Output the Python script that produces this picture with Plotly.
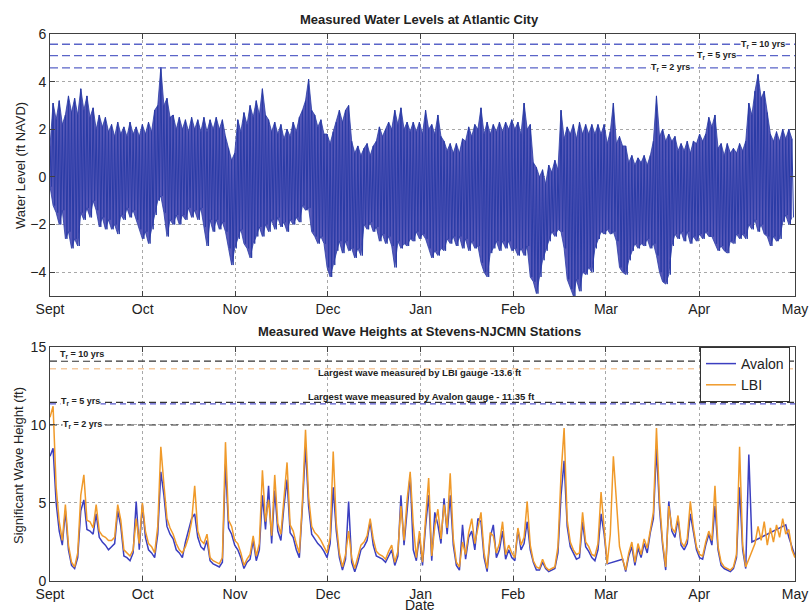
import plotly.graph_objects as go

# ---------------- data ----------------
MONTH_LABELS = ["Sept", "Oct", "Nov", "Dec", "Jan", "Feb", "Mar", "Apr", "May"]
MONTH_TICK_DAYS = [0, 30.1, 60.1, 90.3, 120.4, 150.4, 180.6, 210.9, 242]

# daily high / low water level (ft NAVD), Atlantic City
TIDE_HIGH = [
    1.3, 3.1, 2.4, 3.2, 2.2, 2.6, 3.4, 2.7, 3.3, 2.6,
    3.7, 2.8, 3.4, 2.5, 2.9, 2.0, 2.6, 2.1, 2.5, 1.9,
    2.2, 1.7, 2.3, 1.8, 2.1, 1.7, 2.3, 1.8, 2.1, 1.7,
    2.2, 1.8, 2.3, 1.9, 2.8, 3.0, 4.6, 3.0, 3.3, 2.5,
    2.6, 2.0, 2.5, 2.0, 2.4, 1.9, 2.5, 2.0, 2.4, 1.9,
    2.5, 1.9, 2.4, 2.0, 2.5, 2.0, 2.4, 1.7, 1.2, 0.7,
    1.0, 2.4, 1.9, 2.7, 2.2, 3.0, 2.5, 3.2, 2.6, 3.7,
    2.6, 2.4, 1.9, 2.3, 1.8, 2.2, 1.6, 2.0, 1.7, 2.3,
    1.9, 2.5, 2.8, 3.2, 4.1, 2.8, 2.6, 2.1, 2.4, 1.8,
    1.8, 1.4, 1.9, 2.3, 2.8, 2.3, 2.8, 3.0, 1.5, 1.0,
    1.3, 0.9, 1.2, 1.4, 0.9, 1.3, 1.5, 2.1, 1.7, 2.0,
    2.3, 2.0, 2.8, 2.2, 2.9, 2.0, 2.3, 1.9, 2.3, 1.9,
    2.3, 1.8, 2.8, 2.0, 2.2, 1.8, 2.6, 1.7, 1.5, 1.1,
    1.4, 1.0, 1.4, 1.0, 1.6, 1.5, 2.1, 1.7, 2.2, 2.0,
    2.9, 1.8, 2.3, 1.8, 2.2, 1.9, 2.3, 1.9, 2.3, 2.0,
    2.4, 2.0, 2.3, 1.8, 3.1, 2.0, 2.2, 0.6, 0.4, 0.0,
    0.3, -0.3, 0.5, 0.2, 0.7, 0.3, 2.8, 1.6, 2.1, 1.8,
    2.2, 1.6, 2.3, 1.8, 2.2, 1.8, 2.2, 1.8, 2.2, 1.8,
    2.2, 1.4, 1.9, 3.1, 1.4, 1.7, 1.3, 1.3, 0.6, 0.9,
    0.5, 0.8, 0.6, 0.9, 0.5, 0.9, 1.5, 3.4, 1.7, 2.0,
    1.5, 1.8, 1.5, 1.7, 1.1, 1.4, 1.1, 1.5, 1.0, 1.5,
    1.4, 1.8, 1.5, 1.8, 2.5, 2.1, 2.6, 1.2, 1.4, 0.9,
    1.4, 1.0, 1.2, 1.0, 1.4, 1.1, 1.5, 3.1, 2.6, 3.6,
    4.3, 3.3, 3.6, 2.7, 1.8, 1.5, 1.9, 1.5, 2.0, 1.6,
    2.0, 1.6,
]
TIDE_LOW = [
    -0.4, -1.2, -1.5, -2.0, -1.4, -2.6, -2.3, -3.0, -2.6, -2.9,
    -1.5, -1.8, -1.3, -1.7, -1.0, -1.4, -2.1, -1.7, -2.2, -1.8,
    -2.2, -2.0, -2.4, -1.6, -1.8, -1.3, -1.7, -1.4, -1.8, -2.2,
    -2.6, -2.3, -2.8, -2.2, -1.6, -1.0, -0.8, -1.5, -2.5, -1.8,
    -2.0, -1.6, -2.0, -1.6, -1.8, -1.3, -1.7, -1.4, -1.8, -1.3,
    -2.1, -2.9, -1.8, -2.3, -1.8, -2.2, -1.9, -2.3, -3.0, -3.7,
    -3.0, -2.6, -2.2, -2.8, -3.0, -3.4, -2.8, -2.5, -2.1, -2.5,
    -2.0, -2.3, -1.8, -2.2, -1.7, -2.1, -1.9, -2.3, -1.8, -2.0,
    -1.7, -1.9, -1.2, -1.4, -1.3, -2.3, -2.5, -2.8, -2.5, -2.8,
    -3.8, -4.2, -3.7, -3.1, -2.7, -3.2, -2.7, -3.1, -3.0, -3.4,
    -3.0, -3.3, -2.0, -2.2, -1.9, -2.3, -2.1, -2.7, -2.4, -2.8,
    -2.5, -2.9, -3.8, -2.7, -3.0, -2.8, -2.9, -2.6, -2.7, -2.3,
    -2.6, -2.4, -2.6, -3.0, -3.4, -3.1, -3.3, -3.0, -3.1, -2.6,
    -2.8, -2.5, -2.9, -2.5, -3.0, -2.6, -3.1, -2.7, -3.0, -2.9,
    -3.6, -4.0, -4.2, -3.2, -3.0, -2.7, -3.1, -2.7, -3.0, -2.7,
    -3.1, -3.0, -3.3, -3.0, -3.3, -2.9, -4.2, -4.4, -4.9, -4.2,
    -3.5, -3.1, -2.7, -2.3, -2.5, -2.2, -2.3, -3.0, -4.3, -4.7,
    -5.0, -4.3, -4.8, -4.0, -4.1, -3.8, -4.0, -3.0, -2.6, -2.3,
    -2.4, -2.2, -2.4, -2.3, -2.7, -3.8, -4.0, -4.1, -3.5, -3.1,
    -2.8, -3.0, -2.8, -2.9, -2.6, -3.0, -2.8, -3.3, -4.0, -4.4,
    -4.5, -4.1, -2.9, -2.4, -2.6, -2.3, -2.7, -2.3, -2.8, -2.5,
    -2.7, -2.4, -2.6, -2.3, -2.5, -2.5, -2.8, -3.1, -2.9, -3.1,
    -3.2, -2.7, -2.8, -2.4, -2.6, -2.4, -2.6, -2.0, -2.2, -1.8,
    -2.3, -2.0, -2.4, -2.5, -2.9, -2.5, -2.7, -2.6, -1.9, -1.6,
    -2.0, -1.7,
]

# daily significant wave height (ft); None = gap in record
AVALON = [
    8.0, 8.5, 5.0, 3.2, 2.3, 4.5, 2.0, 1.0, 0.8, 1.5,
    4.5, 5.2, 3.3, 3.2, 3.0, 4.3, 2.8, 2.5, 2.3, 2.0,
    2.2, 2.4, 4.5, 3.5, 1.6, 1.5, 1.3, 1.8, 5.1, 2.0,
    4.9, 2.8, 2.0, 1.8, 1.5, 3.0, 7.0, 5.5, 3.5, 3.0,
    2.7, 2.0, 1.8, 1.5, 2.5, 3.2, 4.0, 4.3, 2.8, 2.2,
    2.0, 2.6, 1.3, 1.1, 1.0, 0.9, 1.2, 7.5, 3.4, 3.0,
    2.3, 2.0, 1.5, 0.8, 1.2, 1.4, 2.6, 1.3, 2.0, 5.5,
    3.3, 6.1, 2.4, 5.8, 3.2, 2.6, 4.8, 6.5, 3.1, 2.8,
    2.0, 1.5, 4.8, 8.6, 4.8, 3.0, 2.7, 2.4, 2.2, 1.9,
    1.5, 2.4, 6.0, 3.2, 1.5, 0.7, 1.4, 5.1, 1.2, 0.6,
    1.2, 2.0, 2.2, 2.6, 3.8, 2.3, 1.6, 1.5, 1.4, 1.2,
    1.6, 2.0, 1.0, 1.6, 5.5, 2.3, 4.5, 6.8, 2.0, 1.3,
    2.9, 1.0, 3.5, 5.5, 1.3, 4.4, 3.6, 2.4, 5.3, 3.0,
    5.5, 2.3, 1.0, 0.7, 3.6, 1.4, 2.8, 3.2, 2.0, 4.0,
    3.8, 1.5, 0.6, 2.8, 3.6, 1.5, 2.0, 3.2, 1.4, 2.0,
    1.5, 1.3, 3.3, 2.0, 2.4, 3.8, 2.0, 1.2, 0.7, 0.7,
    1.2, 0.8, 0.6, 0.7, 0.8, 1.8, 5.5, 7.7, 3.5, 2.2,
    1.8, 1.4, 1.5, 3.8, 2.2, 1.9, 1.5, 1.3, 2.0, 4.3,
    3.0, 1.1, None, None, None, None, 1.4, 0.6, 1.6, 2.2,
    1.0, 2.1, 1.5, 2.4, 1.8, 3.1, 4.0, 8.5, 4.6, 2.3,
    0.7, 5.1, 3.2, 2.8, 4.0, 2.3, 2.0, 2.4, 4.3, 3.0,
    2.0, 1.5, 1.4, 2.3, 3.0, 2.3, 4.8, 2.0, 1.0, 0.8,
    0.7, 0.6, 0.8, 1.5, 6.0, 2.0, 0.8, 8.1, 2.5, None,
    None, None, None, None, None, None, None, None, None, 3.6,
    2.8, 2.2, 1.6,
]
LBI = [
    10.5, 11.2, 6.0, 3.8, 2.6, 4.9, 2.3, 1.2, 0.9, 1.8,
    5.5, 6.8, 3.9, 3.8, 3.4, 4.9, 3.2, 2.9, 2.8, 2.6,
    2.6, 2.8, 4.9, 3.9, 2.0, 1.8, 1.6, 2.0, 4.0, 2.4,
    5.0, 3.2, 2.4, 2.2, 1.8, 3.5, 8.6, 6.2, 4.0, 3.4,
    3.0, 2.4, 2.0, 1.8, 2.2, 2.8, 3.8, 6.1, 3.2, 2.6,
    2.4, 3.0, 1.5, 1.3, 1.2, 1.1, 1.5, 8.9, 3.9, 3.5,
    2.6, 2.4, 1.8, 1.0, 1.4, 1.7, 2.9, 1.6, 2.4, 7.1,
    3.8, 5.2, 2.9, 6.8, 3.7, 3.0, 5.3, 7.6, 3.6, 3.2,
    2.4, 1.8, 5.1, 9.7, 5.4, 3.5, 3.1, 2.9, 2.6, 2.2,
    1.8, 2.8, 8.3, 3.7, 1.8, 0.9, 1.7, 3.2, 1.5, 0.8,
    1.5, 2.3, 2.5, 2.9, 4.0, 2.7, 1.9, 1.7, 1.6, 1.4,
    1.9, 2.3, 1.2, 1.9, 4.8, 2.6, 5.2, 7.0, 3.6, 1.5,
    3.2, 1.2, 4.0, 6.6, 1.6, 3.5, 4.6, 2.7, 4.9, 3.4,
    6.9, 2.7, 1.2, 0.9, 2.5, 1.7, 3.1, 4.0, 2.4, 3.3,
    4.4, 1.8, 0.8, 3.1, 2.9, 1.8, 2.4, 3.8, 1.7, 2.3,
    1.8, 1.5, 3.4, 2.3, 2.8, 5.1, 2.3, 1.3, 0.9, 0.8,
    1.4, 0.9, 0.7, 0.8, 0.9, 2.2, 6.8, 9.8, 3.9, 2.5,
    2.0, 1.7, 1.8, 4.4, 2.5, 2.2, 1.7, 1.6, 2.4, 5.7,
    3.6, 1.1, 3.0, 8.0, 5.1, 2.2, 1.4, 0.7, 1.8, 2.5,
    1.2, 2.4, 1.7, 2.7, 2.1, 3.4, 4.4, 9.8, 5.1, 2.5,
    0.9, 4.8, 3.4, 3.1, 4.2, 2.5, 2.2, 2.7, 5.1, 3.4,
    2.2, 1.7, 1.6, 2.5, 3.2, 2.6, 6.1, 2.2, 1.2, 0.9,
    0.8, 0.7, 0.9, 1.7, 8.6, 2.3, 0.9, None, None, 2.4,
    3.5, 2.6, 3.8, 2.3, 3.4, 2.5, 3.6, 2.8, 4.0, 3.0,
    3.3, 2.0, 1.5,
]

WL_TR_LEVELS = [5.57, 5.09, 4.58]
WL_TR_LABELS = ["T<sub>r</sub> = 10 yrs", "T<sub>r</sub> = 5 yrs", "T<sub>r</sub> = 2 yrs"]
WH_TR_LEVELS = [14.1, 11.45, 10.0]
WH_TR_LABELS = ["T<sub>r</sub> = 10 yrs", "T<sub>r</sub> = 5 yrs", "T<sub>r</sub> = 2 yrs"]
LBI_MAX = 13.6
AVALON_MAX = 11.35

# ---------------- figure ----------------
FONT = "Arial, Liberation Sans, Helvetica, sans-serif"
FILL_BLUE = "#5658b8"
TIDE_LINE = "#2a3ba6"
AV_BLUE = "#3b3fc0"
ORANGE = "#f09a2a"
X_END = MONTH_TICK_DAYS[-1]

fig = go.Figure()

days_t = list(range(len(TIDE_HIGH)))
# filled tidal envelope between daily lows and highs
fig.add_trace(go.Scatter(x=days_t, y=TIDE_LOW, mode="lines", line=dict(color=TIDE_LINE, width=0.8),
                         showlegend=False, hoverinfo="skip", xaxis="x", yaxis="y"))
fig.add_trace(go.Scatter(x=days_t, y=TIDE_HIGH, mode="lines", line=dict(color=TIDE_LINE, width=0.8),
                         fill="tonexty", fillcolor=FILL_BLUE,
                         showlegend=False, hoverinfo="skip", xaxis="x", yaxis="y"))
# semidiurnal swings between the daily high and low
tx, ty = [], []
for d, (h, l) in enumerate(zip(TIDE_HIGH, TIDE_LOW)):
    tx += [d, d + 0.5]
    ty += [h, l]
fig.add_trace(go.Scatter(x=tx, y=ty, mode="lines", line=dict(color=TIDE_LINE, width=1),
                         showlegend=False, hoverinfo="skip", xaxis="x", yaxis="y"))

for lev in WL_TR_LEVELS:
    fig.add_trace(go.Scatter(x=[0, X_END], y=[lev, lev], mode="lines",
                             line=dict(color="#5a64c8", width=1.3, dash="8px,4px"),
                             showlegend=False, hoverinfo="skip", xaxis="x", yaxis="y"))

# wave height reference lines
for lev in WH_TR_LEVELS:
    fig.add_trace(go.Scatter(x=[0, X_END], y=[lev, lev], mode="lines",
                             line=dict(color="#333333", width=1.2, dash="7px,4px"),
                             showlegend=False, hoverinfo="skip", xaxis="x2", yaxis="y2"))
fig.add_trace(go.Scatter(x=[0, X_END], y=[LBI_MAX, LBI_MAX], mode="lines",
                         line=dict(color="#f0b070", width=1, dash="6px,5px"),
                         showlegend=False, hoverinfo="skip", xaxis="x2", yaxis="y2"))
fig.add_trace(go.Scatter(x=[0, X_END], y=[AVALON_MAX, AVALON_MAX], mode="lines",
                         line=dict(color="#5a5ad0", width=1.2, dash="6px,4px"),
                         showlegend=False, hoverinfo="skip", xaxis="x2", yaxis="y2"))

fig.add_trace(go.Scatter(x=list(range(len(AVALON))), y=AVALON, mode="lines", name="Avalon",
                         line=dict(color=AV_BLUE, width=1.5), connectgaps=True,
                         xaxis="x2", yaxis="y2"))
fig.add_trace(go.Scatter(x=list(range(len(LBI))), y=LBI, mode="lines", name="LBI",
                         line=dict(color=ORANGE, width=1.5), connectgaps=True,
                         xaxis="x2", yaxis="y2"))

axis_common = dict(
    showline=True, linecolor="#404040", linewidth=1, mirror="ticks",
    ticks="inside", ticklen=5, tickcolor="#404040",
    showgrid=True, gridcolor="#a8a8a8", griddash="dot", gridwidth=1,
    zeroline=False, automargin=False,
    tickfont=dict(family=FONT, size=14, color="#222222"),
)

fig.update_layout(
    width=810, height=611,
    margin=dict(l=50, r=15, t=34, b=30, autoexpand=False),
    paper_bgcolor="white", plot_bgcolor="white",
    font=dict(family=FONT, color="#222222"),
    xaxis=dict(axis_common, domain=[0, 1], range=[0, X_END], tickvals=MONTH_TICK_DAYS,
               ticktext=MONTH_LABELS, anchor="y"),
    yaxis=dict(axis_common, domain=[0.521, 1], range=[-5, 6], tickvals=[-4, -2, 0, 2, 4, 6],
               anchor="x"),
    xaxis2=dict(axis_common, domain=[0, 1], range=[0, X_END], tickvals=MONTH_TICK_DAYS,
                ticktext=MONTH_LABELS, anchor="y2"),
    yaxis2=dict(axis_common, domain=[0, 0.4278], range=[0, 15], tickvals=[0, 5, 10, 15],
                anchor="x2"),
    legend=dict(x=0.9933, xanchor="right", y=0.4278, yanchor="top",
                bgcolor="white", bordercolor="#333333", borderwidth=1,
                font=dict(family=FONT, size=14, color="#222222"),
                itemwidth=30, tracegroupgap=0, traceorder="normal"),
    showlegend=True,
)

ann = []
def px_to_day(px):
    return (px - 50) / 3.078

def label(text, x, y, size, xref="paper", yref="paper", angle=0, bg=None):
    d = dict(text=text, xref=xref, yref=yref, x=x, y=y, xanchor="center", yanchor="middle",
             showarrow=False, textangle=angle, font=dict(family=FONT, size=size, color="#222222"))
    if bg:
        d.update(bgcolor=bg, borderpad=0)
    return d

# titles & axis labels
ann.append(label("<b>Measured Water Levels at Atlantic City</b>", 0.4966, 1.0256, 13))
ann.append(label("<b>Measured Wave Heights at Stevens-NJCMN Stations</b>", 0.4966, 0.4558, 13))
ann.append(label("Water Level (ft NAVD)", -0.0403, 0.7605, 13, angle=-90))
ann.append(label("Significant Wave Height (ft)", -0.043, 0.212, 13, angle=-90))
ann.append(label("Date", 0.4966, -0.0439, 14))

# top return-period labels
for lab, lev, cx in zip(WL_TR_LABELS, WL_TR_LEVELS, [763, 716.5, 670.5]):
    ann.append(label("<b>" + lab + "</b>", px_to_day(cx), lev, 9, "x", "y", bg="white"))

# bottom labels
for lab, lev, cx in zip(WH_TR_LABELS, [14.5, 11.48, 10.05], [82, 80, 82]):
    ann.append(label("<b>" + lab + "</b>", px_to_day(cx), lev, 9, "x2", "y2", bg="white"))
ann.append(label("<b>Largest wave measured by LBI gauge -13.6 ft</b>",
                 px_to_day(420), 13.34, 9.5, "x2", "y2"))
ann.append(label("<b>Largest wave measured by Avalon gauge - 11.35 ft</b>",
                 px_to_day(421.7), 11.8, 9.5, "x2", "y2"))

fig.update_layout(annotations=ann)
fig.write_html("out.html", config={"displayModeBar": False},
               post_script="document.body.style.margin='0px';document.body.style.overflow='hidden';")
